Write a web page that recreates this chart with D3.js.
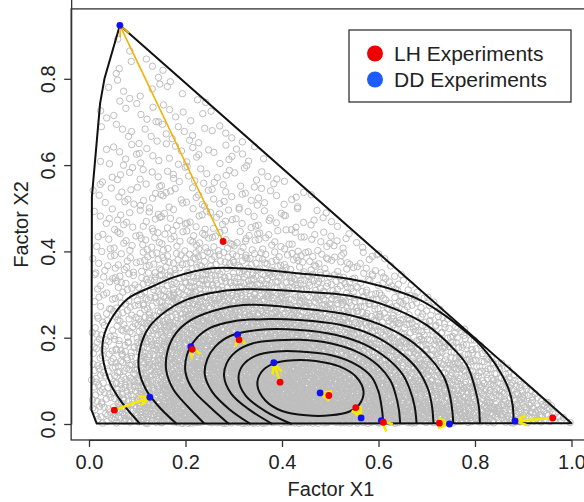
<!DOCTYPE html>
<html><head><meta charset="utf-8">
<script src="https://cdn.jsdelivr.net/npm/d3@7"></script>
<style>html,body{margin:0;padding:0;background:#fff;} svg{display:block;font-family:"Liberation Sans",Arial,sans-serif;}</style>
</head><body><svg id="chart" width="584" height="502"></svg>
<script>
// ---------- data ----------
const xTicks = [0, 0.2, 0.4, 0.6, 0.8, 1.0];
const yTicks = [0, 0.2, 0.4, 0.6, 0.8];
const legendLabels = ["LH Experiments", "DD Experiments"];

// paired experiments (LH = red start, DD = blue end)
const lhX = [0.278, 0.0525, 0.214, 0.311, 0.396, 0.497, 0.553, 0.610, 0.726, 0.961];
const lhY = [0.423, 0.032, 0.173, 0.195, 0.097, 0.066, 0.038, 0.004, 0.002, 0.014];
const ddX = [0.064, 0.126, 0.211, 0.308, 0.383, 0.479, 0.564, 0.606, 0.747, 0.883];
const ddY = [0.924, 0.062, 0.179, 0.207, 0.142, 0.072, 0.014, 0.008, 0.000, 0.007];
const arrowKind = ["far", "near", "near", "near", "near", "near", "near", "near", "near", "near"];

// convex hull of the candidate region
const hullX = [0.064, 1.000, 0.016, 0.005, 0.006, 0.023, 0.032];
const hullY = [0.924, 0.002, 0.001, 0.033, 0.527, 0.743, 0.800];

// density contours (outer -> inner)
const contour1 = [[0.106,0],[0.068,0.05],[0.044,0.094],[0.028,0.16],[0.03,0.2],[0.047,0.245],[0.081,0.291],[0.13,0.318],[0.178,0.341],[0.254,0.361],[0.337,0.359],[0.437,0.349],[0.541,0.336],[0.61,0.318],[0.679,0.291],[0.727,0.26],[0.769,0.225],[0.804,0.191],[0.831,0.156],[0.852,0.121],[0.869,0.083],[0.878,0.044],[0.880,0]];
const contour2 = [[0.182,0],[0.145,0.04],[0.118,0.08],[0.103,0.13],[0.107,0.18],[0.125,0.225],[0.16,0.262],[0.2,0.287],[0.25,0.303],[0.32,0.312],[0.437,0.307],[0.541,0.297],[0.631,0.268],[0.7,0.229],[0.748,0.183],[0.783,0.137],[0.80,0.083],[0.808,0.04],[0.81,0]];
const contour3 = [[0.24,0],[0.205,0.04],[0.175,0.08],[0.16,0.125],[0.163,0.17],[0.18,0.21],[0.21,0.24],[0.26,0.263],[0.32,0.276],[0.437,0.268],[0.53,0.255],[0.6,0.232],[0.66,0.198],[0.705,0.155],[0.735,0.11],[0.745,0.08],[0.752,0.04],[0.755,0]];
const contour4 = [[0.29,0],[0.25,0.04],[0.215,0.08],[0.2,0.12],[0.203,0.16],[0.22,0.195],[0.25,0.222],[0.3,0.238],[0.36,0.243],[0.437,0.241],[0.52,0.23],[0.59,0.205],[0.64,0.17],[0.68,0.128],[0.703,0.08],[0.711,0.04],[0.714,0]];
const contour5 = [[0.335,0],[0.29,0.035],[0.255,0.075],[0.24,0.115],[0.245,0.15],[0.262,0.18],[0.295,0.205],[0.35,0.218],[0.437,0.218],[0.51,0.207],[0.57,0.185],[0.62,0.15],[0.65,0.115],[0.665,0.08],[0.675,0.04],[0.679,0]];
const contour6 = [[0.38,0],[0.33,0.035],[0.295,0.07],[0.28,0.11],[0.285,0.14],[0.305,0.168],[0.34,0.187],[0.39,0.194],[0.437,0.195],[0.5,0.187],[0.56,0.165],[0.6,0.135],[0.625,0.1],[0.635,0.07],[0.642,0.035],[0.645,0]];
const contour7 = [[0.42,0],[0.365,0.03],[0.325,0.065],[0.31,0.105],[0.318,0.135],[0.345,0.158],[0.39,0.168],[0.437,0.168],[0.5,0.16],[0.55,0.14],[0.585,0.11],[0.6,0.075],[0.607,0.035],[0.61,0]];
const contour8 = [[0.349,0.09],[0.357,0.12],[0.382,0.14],[0.423,0.148],[0.47,0.146],[0.52,0.133],[0.553,0.11],[0.569,0.075],[0.56,0.045],[0.54,0.029],[0.5,0.02],[0.45,0.02],[0.4,0.03],[0.365,0.055]];

// density of the grey candidate cloud: points per 0.05 x 0.05 cell
// (row i = Y band [0.05i,0.05i+0.05], column j = X band [0.05j,0.05j+0.05])
const cloudDensity = [
  [20,32,52,72,90,104,110,110,106,100,92,84,76,68,60,52,46,40,34,28],
  [18,28,46,64,80,92,96,96,92,86,78,70,62,54,46,40,34,30,24],
  [16,24,40,56,70,80,84,84,80,72,64,56,48,40,34,28,24,20],
  [14,20,34,48,60,66,70,68,64,58,50,42,36,30,26,22,18],
  [12,16,28,38,46,52,54,52,48,42,36,30,26,22,18,15],
  [10,14,22,30,36,40,40,38,34,30,26,22,18,15,12],
  [8,12,17,22,26,28,28,26,24,20,17,14,12,10],
  [7,10,13,15,17,18,18,16,14,12,10,8,7],
  [6,8,10,11,11,10,10,9,8,7,6,5],
  [5,7,8,8,8,8,7,6,6,5,5],
  [5,6,7,7,7,6,6,5,5,4],
  [4,5,6,6,6,5,5,4,4],
  [4,5,5,5,5,5,4,4],
  [3,4,5,5,4,4,3],
  [3,4,4,4,3,3],
  [3,3,3,3,3],
  [2,3,3,2],
  [2,2,2],
  [1,2]
];

// ---------- drawing ----------
const svg = d3.select("#chart");
const x = d3.scaleLinear().domain([0, 1]).range([89, 571.5]);
const y = d3.scaleLinear().domain([0, 1]).range([424, -7.5]);
const usrX = [-0.037, 1.04], usrY = [-0.037, 0.962];
const ink = "#222";

const hull = hullX.map((v, i) => [v, hullY[i]]);

// grey cloud: cells are filled with a low-discrepancy layout
function halton(i, b) { let f = 1, r = 0; while (i > 0) { f /= b; r += f * (i % b); i = Math.floor(i / b); } return r; }
const cloud = [];
let k = 1;
cloudDensity.forEach((row, i) => row.forEach((n, j) => {
  for (let c = 0; c < n; c++, k++) {
    const p = [0.05 * (j + halton(k, 2)), 0.05 * (i + halton(k, 3))];
    if (d3.polygonContains(hull, p)) cloud.push(p);
  }
}));
svg.append("g").selectAll("circle").data(cloud).join("circle")
  .attr("cx", d => x(d[0])).attr("cy", d => y(d[1])).attr("r", 3.2)
  .attr("fill", "none").attr("stroke", "#bebebe").attr("stroke-width", 1);

// hull
svg.append("path").datum(hull)
  .attr("d", d3.line().x(d => x(d[0])).y(d => y(d[1])).curve(d3.curveLinearClosed))
  .attr("fill", "none").attr("stroke", "#111").attr("stroke-width", 2).attr("stroke-linejoin", "round");

// contours
const cLine = d3.line().x(d => x(d[0])).y(d => y(d[1])).curve(d3.curveCatmullRom.alpha(0.5));
const cLineClosed = d3.line().x(d => x(d[0])).y(d => y(d[1])).curve(d3.curveCatmullRomClosed.alpha(0.5));
[contour1, contour2, contour3, contour4, contour5, contour6, contour7].forEach(c => {
  svg.append("path").datum(c).attr("d", cLine).attr("fill", "none").attr("stroke", "#111").attr("stroke-width", 2);
});
svg.append("path").datum(contour8).attr("d", cLineClosed).attr("fill", "none").attr("stroke", "#111").attr("stroke-width", 2);

// arrows from LH to DD
const pairs = lhX.map((v, i) => ({ x0: v, y0: lhY[i], x1: ddX[i], y1: ddY[i], kind: arrowKind[i] }));
const ag = svg.append("g");
pairs.forEach(p => {
  const X0 = x(p.x0), Y0 = y(p.y0), X1 = x(p.x1), Y1 = y(p.y1);
  const ang = Math.atan2(Y0 - Y1, X0 - X1);
  const L = 12, a = Math.PI / 7.5;
  const col = p.kind === "far" ? "#f2b200" : "#f5eb00";
  const w = p.kind === "far" ? 1.6 : 2.6;
  const d = `M${X0},${Y0}L${X1},${Y1}` +
    `M${X1 + L * Math.cos(ang + a)},${Y1 + L * Math.sin(ang + a)}L${X1},${Y1}L${X1 + L * Math.cos(ang - a)},${Y1 + L * Math.sin(ang - a)}`;
  ag.append("path").attr("d", d).attr("fill", "none").attr("stroke", col).attr("stroke-width", w).attr("stroke-linejoin", "miter");
});

// points
svg.append("g").selectAll("circle").data(pairs).join("circle")
  .attr("cx", d => x(d.x1)).attr("cy", d => y(d.y1)).attr("r", 3.4).attr("fill", "#1010f0");
svg.append("g").selectAll("circle").data(pairs).join("circle")
  .attr("cx", d => x(d.x0)).attr("cy", d => y(d.y0)).attr("r", 3.4).attr("fill", "#f00000");

// box
svg.append("rect")
  .attr("x", x(usrX[0])).attr("y", y(usrY[1]))
  .attr("width", x(usrX[1]) - x(usrX[0])).attr("height", y(usrY[0]) - y(usrY[1]))
  .attr("fill", "none").attr("stroke", "#333").attr("stroke-width", 1.3);

// x axis
const gx = svg.append("g").attr("transform", `translate(0,${y(usrY[0])})`)
  .call(d3.axisBottom(x).tickValues(xTicks).tickFormat(d3.format(".1f")).tickSize(7).tickSizeOuter(0).tickPadding(8));
gx.select(".domain").attr("stroke", "#333").attr("stroke-width", 1.3);
gx.selectAll(".tick line").attr("stroke", "#333").attr("stroke-width", 1.3);
gx.selectAll(".tick text").attr("font-size", 20).attr("fill", ink).attr("font-family", "Liberation Sans, Arial, sans-serif");

// y axis
const gy = svg.append("g").attr("transform", `translate(${x(usrX[0])},0)`)
  .call(d3.axisLeft(y).tickValues(yTicks).tickFormat(d3.format(".1f")).tickSize(7).tickSizeOuter(0));
gy.select(".domain").attr("stroke", "#333").attr("stroke-width", 1.3);
gy.selectAll(".tick line").attr("stroke", "#333").attr("stroke-width", 1.3);
gy.selectAll(".tick text").attr("font-size", 20).attr("fill", ink).attr("font-family", "Liberation Sans, Arial, sans-serif")
  .attr("transform", "rotate(-90)").attr("x", 0).attr("y", -16).attr("dy", 0).attr("text-anchor", "middle");

// axis titles
svg.append("text").attr("x", (x(usrX[0]) + x(usrX[1])) / 2).attr("y", 496)
  .attr("text-anchor", "middle").attr("font-size", 20).attr("fill", ink).text("Factor X1");
svg.append("text").attr("transform", `translate(28,${(y(usrY[0]) + y(usrY[1])) / 2}) rotate(-90)`)
  .attr("text-anchor", "middle").attr("font-size", 20).attr("fill", ink).text("Factor X2");

// legend
const lg = svg.append("g");
lg.append("rect").attr("x", 349).attr("y", 30).attr("width", 222).attr("height", 72)
  .attr("fill", "#fff").attr("stroke", "#333").attr("stroke-width", 1.3);
const legendColors = ["#f00000", "#1f5cff"];
legendLabels.forEach((t, i) => {
  lg.append("circle").attr("cx", 375).attr("cy", 53.5 + i * 26).attr("r", 8).attr("fill", legendColors[i]);
  lg.append("text").attr("x", 394).attr("y", 61 + i * 26).attr("font-size", 21).attr("fill", ink).text(t);
});
</script></body></html>
